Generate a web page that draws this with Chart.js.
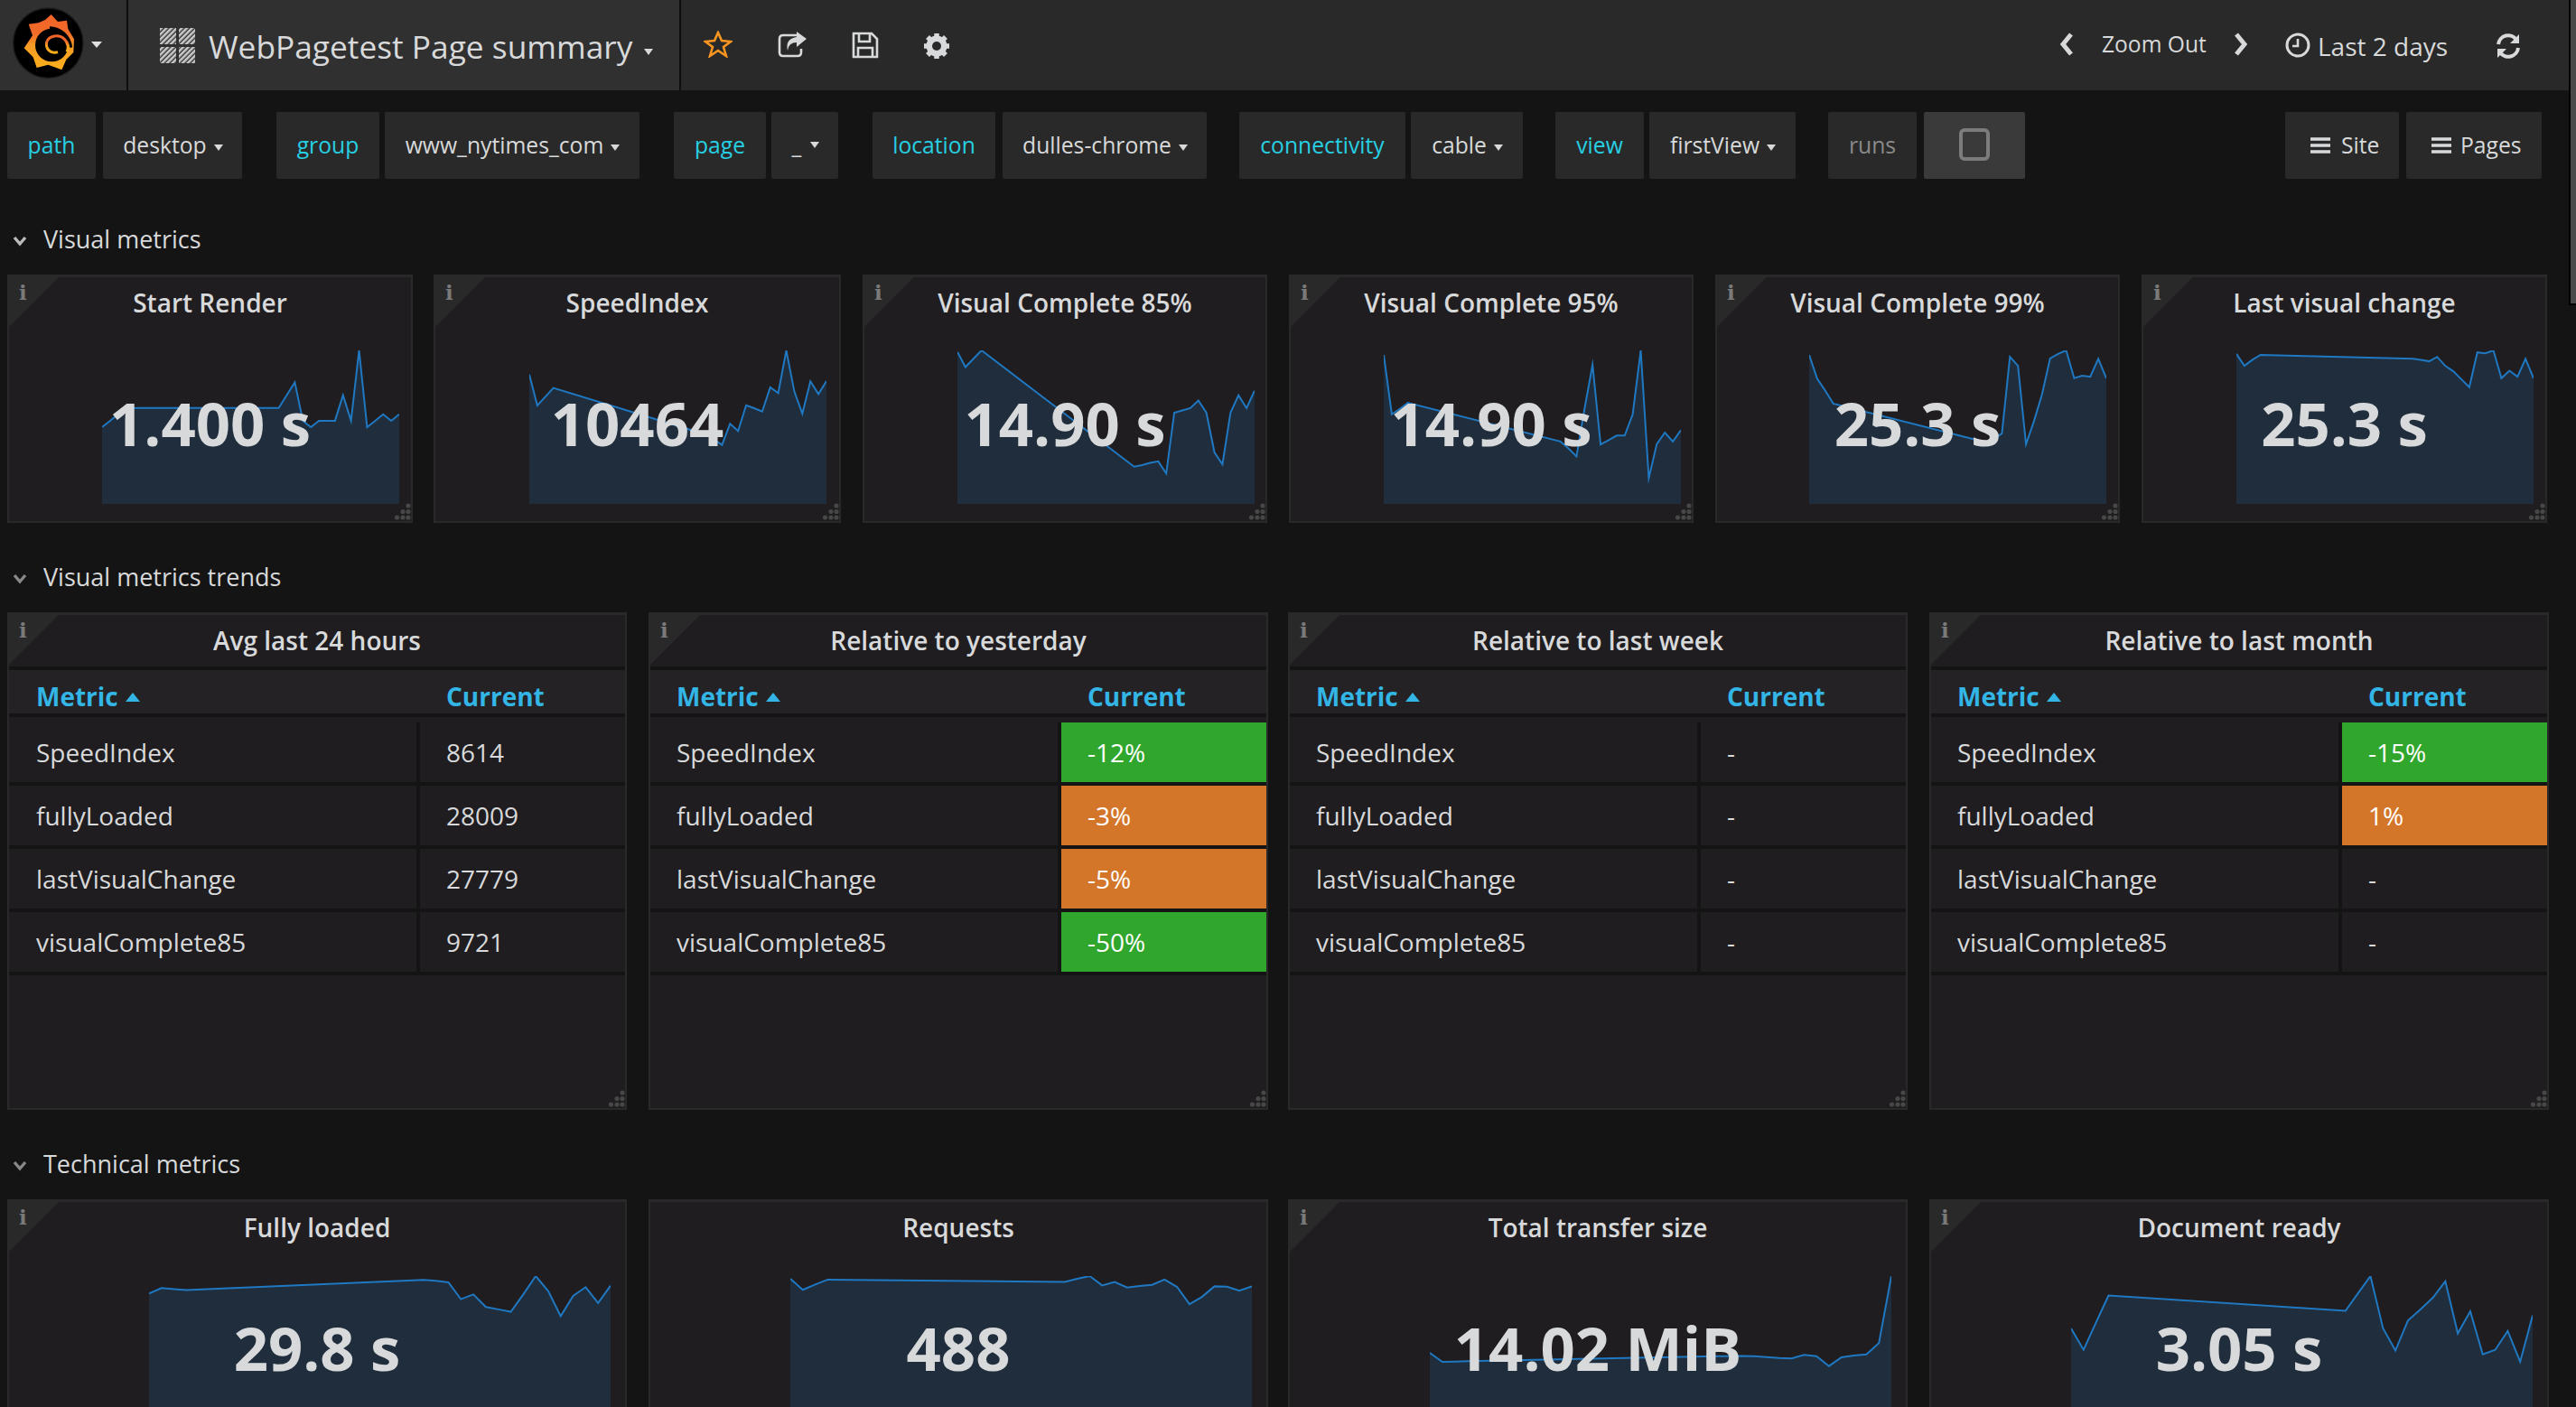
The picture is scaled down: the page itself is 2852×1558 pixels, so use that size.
<!DOCTYPE html>
<html>
<head>
<meta charset="utf-8">
<title>WebPagetest Page summary</title>
<script src="https://cdn.jsdelivr.net/npm/chart.js@4"></script>
<style>
html, body { margin: 0; padding: 0; width: 2852px; height: 1558px; overflow: hidden; background: #141414; }
body { font-family: "Open Sans", sans-serif; color: #d8d9da; position: relative; }
.abs { position: absolute; }
.t { position: absolute; white-space: nowrap; }
.nav { position: absolute; left: 0; top: 0; width: 2844px; height: 100px; background: #292929; }
.navbtn { position: absolute; top: 0; height: 100px; background: #303030; border-right: 2px solid #0e0e0e; box-sizing: border-box; }
.caret { position: absolute; width: 0; height: 0; border-left: 5px solid transparent; border-right: 5px solid transparent; border-top: 7px solid #d8d9da; }
.box { position: absolute; top: 124px; height: 74px; background: #292929; border-radius: 2px; font-size: 24.7px; line-height: 74px; text-align: center; white-space: nowrap; }
.dd { box-sizing: border-box; padding-right: 7px; }
.key { color: #27cfe3; }
.section { position: absolute; left: 48px; font-size: 27px; line-height: 36px; color: #d8d9da; }
.chev { position: absolute; left: 14px; width: 16px; height: 12px; }
.panel { position: absolute; box-sizing: border-box; background: #1f1d1f; border: 2px solid #292929; border-top-width: 3px; }
.corner { position: absolute; left: 0; top: 0; width: 55px; height: 55px; background: #2a292a; clip-path: polygon(0 0, 100% 0, 0 100%); }
.info { position: absolute; left: 11px; top: 3px; font: bold 23px "DejaVu Serif", serif; color: #7a7a7a; }
.ptitle { position: absolute; left: 0; right: 0; top: 9px; text-align: center; font-size: 28px; font-weight: 600; line-height: 38px; color: #d8d9da; white-space: nowrap; }
.big { position: absolute; left: 0; right: 0; top: 124px; text-align: center; font-size: 67px; font-weight: 700; line-height: 80px; color: #d8d9da; white-space: nowrap; z-index: 3; }
.spark { position: absolute; z-index: 2; }
.grip { position: absolute; right: 0; bottom: 1px; width: 19px; height: 19px; }
.rowline { position: absolute; left: 0; right: 0; height: 4px; background: #141414; }
.head { position: absolute; left: 0; right: 0; top: 61px; height: 48px; background: #242224; }
.hcell { position: absolute; top: 71px; font-size: 28px; font-weight: 700; line-height: 38px; color: #33b5e5; }
.tri { position: absolute; top: 86px; width: 0; height: 0; border-left: 8px solid transparent; border-right: 8px solid transparent; border-bottom: 10px solid #33b5e5; }
.cell { position: absolute; font-size: 28px; line-height: 66px; color: #d8d9da; white-space: nowrap; }
.vsep { position: absolute; width: 4px; background: #141414; left: 451px; }
.val { position: absolute; left: 455px; right: 0; box-sizing: border-box; padding-left: 29px; font-size: 28px; line-height: 66px; height: 66px; white-space: nowrap; }
.scroll { position: absolute; left: 2844px; top: 0; width: 8px; height: 338px; background: #000; }
.thumb { position: absolute; left: 2846px; top: 0; width: 6px; height: 336px; background: #4a4a4a; }
</style>
</head>
<body>

<div class="nav"></div>
<div class="navbtn" style="left:0;width:142px"></div>
<div class="navbtn" style="left:142px;width:612px"></div>

<svg class="abs" style="left:0;top:0" width="160" height="100" viewBox="0 0 480 300">
  <defs><linearGradient id="logoGrad" x1="0" y1="1" x2="0" y2="0"><stop offset="0" stop-color="#fbb01c"/><stop offset="0.45" stop-color="#f79a24"/><stop offset="0.65" stop-color="#f16c28"/><stop offset="1" stop-color="#f1632a"/></linearGradient></defs>
  <circle cx="160" cy="143" r="116" fill="#000" stroke="#1c1c1c" stroke-width="4"/>
  <path d="M170 48 L192 72 L222 68 L226 96 L246 130 L244 174 L220 198 L205 232 L160 215 L122 225 L110 190 L80 160 L108 118 L95 80 L128 76 L150 66 Z" fill="url(#logoGrad)"/>
  <circle cx="172" cy="150" r="55" fill="#000"/>
  <path d="M236 158 C232 120 200 92 165 92" fill="none" stroke="#000" stroke-width="9"/>
  <path d="M192 173 C168 180 150 162 155 140 C162 118 196 112 214 130 C226 144 228 160 222 172" fill="none" stroke="url(#logoGrad)" stroke-width="9"/>
</svg>
<div class="caret" style="left:101px;top:46px;border-left-width:6px;border-right-width:6px;border-top-color:#e0e0e0"></div>

<svg class="abs" style="left:177px;top:31px" width="40" height="40" viewBox="0 0 40 40">
  <defs><pattern id="hatch" width="4" height="4" patternUnits="userSpaceOnUse" patternTransform="rotate(45)"><rect width="2.6" height="4" fill="#c9c9c9"/></pattern></defs>
  <rect x="0" y="0" width="18" height="18" fill="url(#hatch)"/><rect x="21" y="0" width="18" height="18" fill="url(#hatch)"/>
  <rect x="0" y="21" width="18" height="18" fill="url(#hatch)"/><rect x="21" y="21" width="18" height="18" fill="url(#hatch)"/>
</svg>
<div class="t" style="left:231px;top:25px;font-size:35.3px;line-height:52px">WebPagetest Page summary</div>
<div class="caret" style="left:713px;top:54px"></div>

<svg class="abs" style="left:779px;top:34px" width="32" height="30" viewBox="0 0 32 30"><path d="M16 2 L20 11 L30 12 L22 18 L25 28 L16 22 L7 28 L10 18 L2 12 L12 11 Z" fill="none" stroke="#f79520" stroke-width="2.6"/></svg>
<svg class="abs" style="left:861px;top:34px" width="34" height="30" viewBox="0 0 34 30"><path d="M22 5 H6 Q2 5 2 9 V24 Q2 28 6 28 H22 Q26 28 26 24 V20" fill="none" stroke="#d8d9da" stroke-width="2.6"/><path d="M21 1 L32 9 L21 18 V13 Q12 13 11 22 Q8 9 21 7 Z" fill="#d8d9da"/></svg>
<svg class="abs" style="left:943px;top:35px" width="30" height="30" viewBox="0 0 30 30"><path d="M2 2 H22 L28 8 V28 H2 Z M8 2 V11 H20 V2 M7 18 H23 V28 H7 Z" fill="none" stroke="#d8d9da" stroke-width="2.6"/></svg>
<svg class="abs" style="left:1022px;top:36px" width="30" height="30" viewBox="0 0 30 30"><circle cx="15" cy="15" r="8.5" fill="none" stroke="#d8d9da" stroke-width="6"/><path d="M15 1 V29 M1 15 H29 M5 5 L25 25 M25 5 L5 25" stroke="#d8d9da" stroke-width="5.5"/><circle cx="15" cy="15" r="5" fill="#292929"/></svg>

<svg class="abs" style="left:2280px;top:36px" width="16" height="26" viewBox="0 0 16 26"><path d="M13 2 L4 13 L13 24" fill="none" stroke="#d8d9da" stroke-width="5"/></svg>
<div class="t" style="left:2327px;top:31px;font-size:24.6px;line-height:36px">Zoom Out</div>
<svg class="abs" style="left:2473px;top:36px" width="16" height="26" viewBox="0 0 16 26"><path d="M3 2 L12 13 L3 24" fill="none" stroke="#d8d9da" stroke-width="5"/></svg>
<svg class="abs" style="left:2530px;top:36px" width="28" height="28" viewBox="0 0 28 28"><circle cx="14" cy="14" r="12" fill="none" stroke="#d8d9da" stroke-width="3"/><path d="M14 7 V15 H8" fill="none" stroke="#d8d9da" stroke-width="2.6"/></svg>
<div class="t" style="left:2566px;top:32px;font-size:28px;line-height:38px">Last 2 days</div>
<svg class="abs" style="left:2762px;top:36px" width="30" height="30" viewBox="0 0 30 30"><path d="M4 13 A11 11 0 0 1 24 8 M26 17 A11 11 0 0 1 6 22" fill="none" stroke="#d8d9da" stroke-width="4"/><path d="M27 2 V12 H17 Z M3 28 V18 H13 Z" fill="#d8d9da"/></svg>

<div class="scroll"></div>
<div class="thumb"></div>

<div class="box key" style="left:8px;width:98px">path</div>
<div class="box dd" style="left:114px;width:154px">desktop<span class="caret" style="position:relative;display:inline-block;left:8px;top:-3px"></span></div>
<div class="box key" style="left:306px;width:114px">group</div>
<div class="box dd" style="left:426px;width:282px">www_nytimes_com<span class="caret" style="position:relative;display:inline-block;left:8px;top:-3px"></span></div>
<div class="box key" style="left:746px;width:102px">page</div>
<div class="box" style="left:854px;width:74px;padding-right:8px;box-sizing:border-box">_<span class="caret" style="position:relative;display:inline-block;left:10px;top:-6px"></span></div>
<div class="box key" style="left:966px;width:136px">location</div>
<div class="box dd" style="left:1110px;width:226px">dulles-chrome<span class="caret" style="position:relative;display:inline-block;left:8px;top:-3px"></span></div>
<div class="box key" style="left:1372px;width:184px">connectivity</div>
<div class="box dd" style="left:1562px;width:124px">cable<span class="caret" style="position:relative;display:inline-block;left:8px;top:-3px"></span></div>
<div class="box key" style="left:1722px;width:98px">view</div>
<div class="box dd" style="left:1826px;width:162px">firstView<span class="caret" style="position:relative;display:inline-block;left:8px;top:-3px"></span></div>
<div class="box" style="left:2024px;width:98px;color:#8a8a8a">runs</div>
<div class="box" style="left:2130px;width:112px;background:#3a3a3a"><span class="abs" style="left:39px;top:18px;width:26px;height:28px;border:4px solid #7c7c7c;border-radius:6px"></span></div>
<div class="box" style="left:2530px;width:126px"><svg class="abs" style="left:28px;top:27px" width="22" height="20"><path d="M0 3 H22 M0 10 H22 M0 17 H22" stroke="#d8d9da" stroke-width="3.5"/></svg><span class="abs" style="left:62px">Site</span></div>
<div class="box" style="left:2664px;width:150px"><svg class="abs" style="left:28px;top:27px" width="22" height="20"><path d="M0 3 H22 M0 10 H22 M0 17 H22" stroke="#d8d9da" stroke-width="3.5"/></svg><span class="abs" style="left:60px">Pages</span></div>

<svg class="chev" style="top:261px" viewBox="0 0 16 12"><path d="M2 2 L8 9 L14 2" fill="none" stroke="#bbb" stroke-width="3.4"/></svg>
<div class="section" style="top:247px">Visual metrics</div>
<svg class="chev" style="top:635px" viewBox="0 0 16 12"><path d="M2 2 L8 9 L14 2" fill="none" stroke="#888" stroke-width="3.4"/></svg>
<div class="section" style="top:621px">Visual metrics trends</div>
<svg class="chev" style="top:1285px" viewBox="0 0 16 12"><path d="M2 2 L8 9 L14 2" fill="none" stroke="#888" stroke-width="3.4"/></svg>
<div class="section" style="top:1271px">Technical metrics</div>

<script>
// samples over the last 2 days, null where no test ran
var samples = ['0','1','2','3','4','5','6','7','8','9','10','11','12','13','14','15','16','17','18','19','20','21','22','23','24','25','26','27','28','29','30','31','32','33','34','35','36','37'];

var startRender = [1200,1300,1400,1500,null,null,null,null,null,null,null,null,null,null,null,null,null,null,null,null,null,null,1500,1700,1900,1300,1200,1300,1300,1300,1700,1300,2400,1200,1300,1400,1300,1400];
var speedIndex = [11017,8385,9133,9881,null,null,null,null,null,null,null,null,null,null,null,null,null,null,null,null,null,null,5908,5495,5031,6837,6218,8411,8153,7869,9933,9443,13081,9572,7688,10449,9365,10464];
var visualComplete85 = [20.0,18.0,19.1,20.2,null,null,null,null,null,null,null,null,null,null,null,null,null,null,null,null,null,null,4.9,5.1,5.4,5.6,4.0,12.0,12.3,12.6,13.6,12.0,6.8,5.2,12.0,14.3,12.6,14.9];
var visualComplete95 = [30.1,18.1,19.2,20.4,null,null,null,null,null,null,null,null,null,null,null,null,null,null,null,null,null,null,12.6,11.2,9.6,19.2,28.1,12.0,12.9,13.8,13.8,18.1,31.0,5.2,12.1,14.4,12.6,14.9];
var visualComplete99 = [30.0,25.2,22.8,20.2,null,null,null,null,null,null,null,null,null,null,null,null,null,null,null,null,null,null,12.4,13.0,14.2,29.6,27.8,12.0,16.7,22.1,29.3,30.2,30.9,25.3,25.8,25.6,29.2,25.3];
var lastVisualChange = [30.2,27.8,29.0,30.0,null,null,null,null,null,null,null,null,null,null,null,null,null,null,null,null,null,null,29.2,29.0,28.7,29.6,27.8,26.7,25.1,23.5,30.5,30.3,30.9,25.3,26.8,25.6,29.2,25.3];

var fullyLoaded = [28.2,29.3,29.1,28.9,null,null,null,null,null,null,null,null,null,null,null,null,null,null,null,null,null,null,31.0,30.8,30.5,27.0,28.0,25.4,24.9,24.4,28.0,31.8,28.7,23.5,27.7,29.5,26.2,29.8];
var requests = [514,476,494,511,null,null,null,null,null,null,null,null,null,null,null,null,null,null,null,null,null,null,503,514,523,491,503,484,489,493,511,486,427,452,488,487,473,488];
var transferSize = [7.01,6.18,6.21,6.24,null,null,null,null,null,null,null,null,null,null,null,null,null,null,null,null,null,null,6.68,6.71,6.71,6.73,6.71,6.62,6.54,6.49,6.82,6.71,5.80,6.60,6.76,6.87,7.89,14.02];
var documentReady = [2.70,2.13,2.86,3.58,null,null,null,null,null,null,null,null,null,null,null,null,null,null,null,null,null,null,3.17,3.64,4.10,2.71,2.11,2.91,3.21,3.52,3.96,2.57,3.16,2.01,2.13,2.63,1.81,3.05];

var visualTitles = ['Start Render','SpeedIndex','Visual Complete 85%','Visual Complete 95%','Visual Complete 99%','Last visual change'];
var visualValues = ['1.400 s','10464','14.90 s','14.90 s','25.3 s','25.3 s'];
var visualSeries = [startRender,speedIndex,visualComplete85,visualComplete95,visualComplete99,lastVisualChange];

var technicalTitles = ['Fully loaded','Requests','Total transfer size','Document ready'];
var technicalValues = ['29.8 s','488','14.02 MiB','3.05 s'];
var technicalSeries = [fullyLoaded,requests,transferSize,documentReady];

var trendTitles = ['Avg last 24 hours','Relative to yesterday','Relative to last week','Relative to last month'];
var trendMetrics = ['SpeedIndex','fullyLoaded','lastVisualChange','visualComplete85'];
var avgLast24 = ['8614','28009','27779','9721'];
var relYesterday = ['-12%','-3%','-5%','-50%'];
var relLastWeek = ['-','-','-','-'];
var relLastMonth = ['-15%','1%','-','-'];
var trendColumns = [avgLast24,relYesterday,relLastWeek,relLastMonth];

// threshold colours of the relative tables
var goodBelow = -10;
var goodColor = '#30a62d';
var warnColor = '#d47629';

// layout
var visualLeft = [8,480,955,1427,1899,2371];
var visualWidth = [449,451,448,448,448,449];
var visualSparkLeft = [113,586,1060,1532,2003,2476];
var wideLeft = [8,718,1426,2136];
var wideSparkLeft = [165,875,1583,2293];

var GRIP = '<svg class="grip" viewBox="0 0 19 19"><g fill="#474747"><circle cx="16" cy="3" r="2.6"/><circle cx="10" cy="9.5" r="2.6"/><circle cx="16" cy="9.5" r="2.6"/><circle cx="3.5" cy="16" r="2.6"/><circle cx="10" cy="16" r="2.6"/><circle cx="16" cy="16" r="2.6"/></g></svg>';

function addPanel(left, top, width, height, title, corner) {
    var p = document.createElement('div');
    p.className = 'panel';
    p.style.cssText = 'left:' + left + 'px;top:' + top + 'px;width:' + width + 'px;height:' + height + 'px';
    p.innerHTML = (corner ? '<div class="corner"></div><div class="info">i</div>' : '') +
        '<div class="ptitle">' + title + '</div>' + GRIP;
    document.body.appendChild(p);
    return p;
}

function addSpark(left, top, width, values) {
    var wrap = document.createElement('div');
    wrap.className = 'spark';
    wrap.style.cssText = 'left:' + left + 'px;top:' + top + 'px;width:' + width + 'px;height:170px';
    var canvas = document.createElement('canvas');
    wrap.appendChild(canvas);
    document.body.appendChild(wrap);
    new Chart(canvas, {
        type: 'line',
        data: {
            labels: samples,
            datasets: [{
                data: values,
                borderColor: '#1f78c1',
                borderWidth: 2,
                backgroundColor: 'rgba(31,120,193,0.18)',
                fill: 'origin',
                pointRadius: 0,
                tension: 0,
                spanGaps: true,
                clip: false
            }]
        },
        options: {
            responsive: true,
            maintainAspectRatio: false,
            animation: false,
            events: [],
            layout: { padding: 0 },
            plugins: { legend: { display: false }, tooltip: { enabled: false } },
            scales: {
                x: { display: false },
                y: { display: false, min: 0, max: Math.max.apply(null, values) }
            }
        }
    });
}

function placeBig(left, top, width, text) {
    var d = document.createElement('div');
    d.className = 'big';
    d.style.cssText = 'left:' + left + 'px;width:' + width + 'px;right:auto;top:' + (top + 124) + 'px';
    d.textContent = text;
    document.body.appendChild(d);
}

// Visual metrics row
visualTitles.forEach(function (title, i) {
    addPanel(visualLeft[i], 304, visualWidth[i], 275, title, true);
    addSpark(visualSparkLeft[i], 388, 329, visualSeries[i]);
    placeBig(visualLeft[i], 304, visualWidth[i], visualValues[i]);
});

// Trend tables
trendTitles.forEach(function (title, i) {
    var p = addPanel(wideLeft[i], 678, 686, 551, title, true);
    var textLeft = i === 0 ? 30 : 29;
    var html = '<div class="rowline" style="top:57px"></div><div class="head"></div><div class="rowline" style="top:109px"></div>' +
        '<div class="hcell" style="left:' + textLeft + 'px">Metric</div><div class="tri" style="left:' + (textLeft + 99) + 'px"></div>' +
        '<div class="hcell" style="left:484px">Current</div>';
    var rowTops = [119, 189, 259, 329];
    trendMetrics.forEach(function (metric, r) {
        var v = trendColumns[i][r];
        var colored = (i === 1 || i === 3) && v !== '-';
        var bg = colored ? (parseInt(v) < goodBelow ? goodColor : warnColor) : 'none';
        html += '<div class="cell" style="left:' + textLeft + 'px;top:' + rowTops[r] + 'px">' + metric + '</div>';
        html += '<div class="vsep" style="top:' + rowTops[r] + 'px;height:66px"></div>';
        html += '<div class="val" style="top:' + rowTops[r] + 'px;background:' + bg + ';color:' + (colored ? '#fff' : '#d8d9da') + '">' + v + '</div>';
        html += '<div class="rowline" style="top:' + (rowTops[r] + 66) + 'px"></div>';
    });
    p.insertAdjacentHTML('beforeend', html);
});

// Technical metrics row
technicalTitles.forEach(function (title, i) {
    addPanel(wideLeft[i], 1328, 686, 300, title, i !== 1);
    addSpark(wideSparkLeft[i], 1413, 511, technicalSeries[i]);
    placeBig(wideLeft[i], 1328, 686, technicalValues[i]);
});
</script>
</body>
</html>
